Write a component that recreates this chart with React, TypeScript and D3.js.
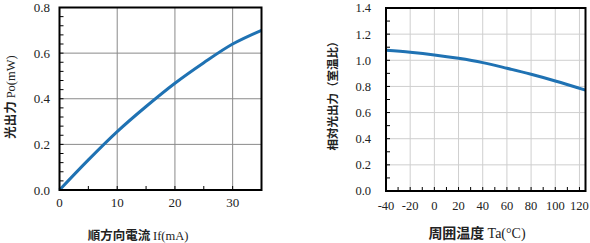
import React from "react";
import * as d3 from "d3";

const currentMA = [0, 5, 10, 15, 20, 25, 30, 35];
const powerMW = [0, 0.132, 0.256, 0.366, 0.468, 0.558, 0.64, 0.7];
const leftXTicks = [0, 10, 20, 30];
const leftYTicks = [0, 0.2, 0.4, 0.6, 0.8];

const tempC = [-40, -20, 0, 20, 40, 60, 80, 100, 125];
const relPower = [1.076, 1.061, 1.041, 1.015, 0.982, 0.939, 0.893, 0.842, 0.772];
const rightXTicks = [-40, -20, 0, 20, 40, 60, 80, 100, 120];
const rightYTicks = [0, 0.2, 0.4, 0.6, 0.8, 1.0, 1.2, 1.4];

const SERIF = "Liberation Serif, serif";
const CJK = "Noto Sans CJK JP, Noto Sans CJK SC, sans-serif";
const LINE = "#1f72b3";

function Panel(props: {
  xs: number[]; ys: number[]; xDom: [number, number]; yDom: [number, number];
  xr: [number, number]; yr: [number, number]; xTicks: number[]; yTicks: number[];
  xMinor: number[]; yMinor: number[]; gridColor: string; gridX: number[]; gridY: number[];
  fs: number; xLabelY: number; yLabelX: number;
}) {
  const x = d3.scaleLinear().domain(props.xDom).range(props.xr);
  const y = d3.scaleLinear().domain(props.yDom).range(props.yr);
  const pts = props.xs.map((v, i) => [v, props.ys[i]] as [number, number]);
  const line = d3.line<[number, number]>().x(d => x(d[0])).y(d => y(d[1])).curve(d3.curveCatmullRom.alpha(0.5));
  const [x0, x1] = props.xr;
  const [y0, y1] = props.yr;
  return (
    <g>
      {props.gridX.map(v => (
        <line key={"gx" + v} x1={x(v)} x2={x(v)} y1={y0} y2={y1} stroke={props.gridColor} strokeWidth={1} />
      ))}
      {props.gridY.map(v => (
        <line key={"gy" + v} x1={x0} x2={x1} y1={y(v)} y2={y(v)} stroke={props.gridColor} strokeWidth={1} />
      ))}
      {props.xMinor.map(v => (
        <line key={"mx" + v} x1={x(v)} x2={x(v)} y1={y0} y2={y0 - 4} stroke="#000" strokeWidth={1} />
      ))}
      {props.yMinor.map(v => (
        <line key={"my" + v} x1={x0} x2={x0 + 4} y1={y(v)} y2={y(v)} stroke="#000" strokeWidth={1} />
      ))}
      <path d={line(pts) || ""} fill="none" stroke={LINE} strokeWidth={3} />
      <rect x={x0} y={y1} width={x1 - x0} height={y0 - y1} fill="none" stroke="#000" strokeWidth={2} />
      {props.xTicks.map(v => (
        <text key={"tx" + v} x={x(v)} y={props.xLabelY} textAnchor="middle" style={{ fontFamily: SERIF }} fontSize={props.fs} fill="#222">
          {v}
        </text>
      ))}
      {props.yTicks.map(v => (
        <text key={"ty" + v} x={props.yLabelX} y={y(v)} dy="0.35em" textAnchor="end" style={{ fontFamily: SERIF }} fontSize={props.fs} fill="#222">
          {v.toFixed(1)}
        </text>
      ))}
    </g>
  );
}

export default function App() {
  const range = (a: number, b: number, s: number) => d3.range(0, Math.round((b - a) / s) + 1).map(i => +(a + i * s).toFixed(4));
  return (
    <svg width={590} height={243} style={{ position: "absolute", left: 0, top: 0, background: "#fff" }}>
      <rect width={590} height={243} fill="#fff" />
      <Panel
        xs={currentMA} ys={powerMW} xDom={[0, 35]} yDom={[0, 0.8]} xr={[59.5, 261.5]} yr={[190, 7.5]}
        xTicks={leftXTicks} yTicks={leftYTicks} xMinor={range(0, 35, 5)} yMinor={range(0, 0.8, 0.04)}
        gridColor="#8a8a8a" gridX={[10, 20, 30]} gridY={[0.2, 0.4, 0.6]} fs={13} xLabelY={207} yLabelX={50}
      />
      <Panel
        xs={tempC} ys={relPower} xDom={[-40, 125]} yDom={[0, 1.4]} xr={[386, 585.5]} yr={[191, 8]}
        xTicks={rightXTicks} yTicks={rightYTicks} xMinor={range(-40, 120, 10)} yMinor={range(0, 1.4, 0.1)}
        gridColor="#cfcfcf" gridX={[-20, 0, 20, 40, 60, 80, 100, 120]} gridY={[0.2, 0.4, 0.6, 0.8, 1.0, 1.2]}
        fs={12.5} xLabelY={210} yLabelX={371}
      />
      <text x={138} y={240} textAnchor="middle" fontSize={12.5} fill="#222">
        <tspan style={{ fontFamily: CJK }} fontWeight="bold">順方向電流 </tspan>
        <tspan style={{ fontFamily: SERIF }}>If(mA)</tspan>
      </text>
      <text x={477} y={238} textAnchor="middle" fontSize={14} fill="#222">
        <tspan style={{ fontFamily: CJK }} fontWeight="bold">周囲温度 </tspan>
        <tspan style={{ fontFamily: SERIF }}>Ta(°C)</tspan>
      </text>
      <text transform="translate(15,97) rotate(-90)" textAnchor="middle" fontSize={12.5} fill="#222">
        <tspan style={{ fontFamily: CJK }} fontWeight="bold">光出力 </tspan>
        <tspan style={{ fontFamily: SERIF }}>Po(mW)</tspan>
      </text>
      <text transform="translate(337,93) rotate(-90)" textAnchor="middle" fontSize={11.5} fill="#222" style={{ fontFamily: CJK }} fontWeight="bold">
        相対光出力（室温比）
      </text>
    </svg>
  );
}
